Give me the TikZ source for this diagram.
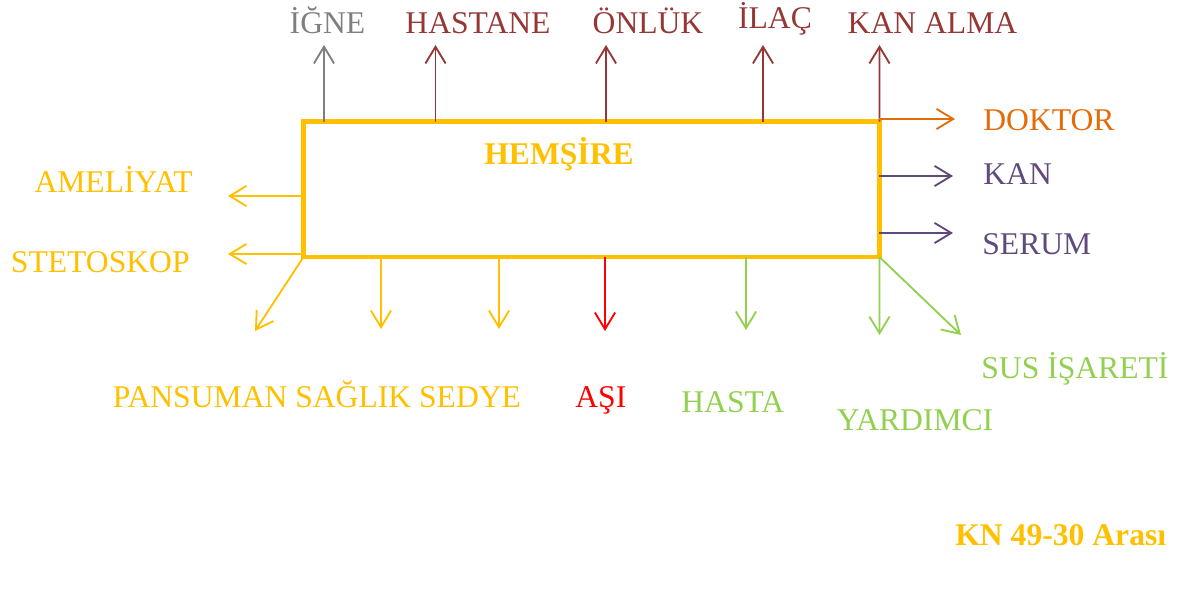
\documentclass[tikz,border=0pt]{standalone}
\usepackage{fontspec}
\setmainfont{Liberation Serif}
\usepackage{xcolor}
\usetikzlibrary{arrows.meta, positioning, calc}

\definecolor{hyellow}{HTML}{FFC000}
\definecolor{hgreen}{HTML}{92D050}
\definecolor{hred}{HTML}{FF0000}
\definecolor{horange}{HTML}{E36C09}
\definecolor{hpurple}{HTML}{604A7B}
\definecolor{hbrown}{HTML}{953735}
\definecolor{hgray}{HTML}{7F7F7F}

\begin{document}
\begin{tikzpicture}[
    x=0.02cm, y=-0.02cm,
    box/.style={draw=hyellow, line width=2.4pt, rectangle, outer sep=0pt, inner sep=0pt, minimum width=11.52cm, minimum height=2.71cm},
    label/.style={inner sep=0pt, font=\fontsize{18}{20}\selectfont},
    boldlabel/.style={label, font=\fontsize{18}{20}\selectfont\bfseries},
    arr/.style={line width=1.05pt, -{Straight Barb[length=9.5pt, width=11.5pt, line width=1.05pt]}}
]
    \useasboundingbox (0,0) rectangle (1181,599);

    % ================= MAIN BOX =================
    \node[box] (hemsire) at (591.5,189.25) {};
    \node[boldlabel, text=hyellow, anchor=base] (title) at (559,164) {HEMŞİRE};

    % ================= TOP =================
    \node[label, text=hgray, anchor=base] (igne) at (327.5,33) {İĞNE};
    \node[label, text=hbrown, anchor=base] (hastane) at (478,33) {HASTANE};
    \node[label, text=hbrown, anchor=base] (onluk) at (648,33) {ÖNLÜK};
    \node[label, text=hbrown, anchor=base] (ilac) at (775,28) {İLAÇ};
    \node[label, text=hbrown, anchor=base] (kanalma) at (932.5,33) {KAN ALMA};

    \coordinate (igne_tip) at (324,45);
    \coordinate (hastane_tip) at (435.5,45);
    \coordinate (onluk_tip) at (606,45);
    \coordinate (ilac_tip) at (763,45);
    \coordinate (kanalma_tip) at (879.5,45);

    \draw[arr, hgray] (hemsire.north -| igne_tip) -- (igne_tip);
    \draw[arr, hbrown] (hemsire.north -| hastane_tip) -- (hastane_tip);
    \draw[arr, hbrown] (hemsire.north -| onluk_tip) -- (onluk_tip);
    \draw[arr, hbrown] (hemsire.north -| ilac_tip) -- (ilac_tip);
    \draw[arr, hbrown] (hemsire.north east) -- (kanalma_tip);

    % ================= RIGHT =================
    \node[label, text=horange, anchor=base west] (doktor) at (983,130) {DOKTOR};
    \node[label, text=hpurple, anchor=base west] (kan) at (983,184) {KAN};
    \node[label, text=hpurple, anchor=base west] (serum) at (982,254) {SERUM};

    \coordinate (doktor_tip) at (955,119);
    \coordinate (kan_tip) at (953,176);
    \coordinate (serum_tip) at (953,233);

    \draw[arr, horange] (hemsire.north east |- doktor_tip) -- (doktor_tip);
    \draw[arr, hpurple] (hemsire.east |- kan_tip) -- (kan_tip);
    \draw[arr, hpurple] (hemsire.east |- serum_tip) -- (serum_tip);

    % ================= LEFT =================
    \node[label, text=hyellow, anchor=base east] (ameliyat) at (193,192) {AMELİYAT};
    \node[label, text=hyellow, anchor=base east] (stetoskop) at (190,272) {STETOSKOP};

    \coordinate (ameliyat_tip) at (228,196);
    \coordinate (stetoskop_tip) at (228,254);

    \draw[arr, hyellow] (hemsire.west |- ameliyat_tip) -- (ameliyat_tip);
    \draw[arr, hyellow] (hemsire.west |- stetoskop_tip) -- (stetoskop_tip);

    % ================= BOTTOM =================
    \node[label, text=hyellow, anchor=base west] (pansuman) at (112.5,407) {PANSUMAN SAĞLIK SEDYE};
    \node[label, text=hred, anchor=base west] (asi) at (575,407) {AŞI};
    \node[label, text=hgreen, anchor=base west] (hasta) at (681,412) {HASTA};
    \node[label, text=hgreen, anchor=base west] (yardimci) at (836.5,430) {YARDIMCI};
    \node[label, text=hgreen, anchor=base west] (sus) at (981,378) {SUS İŞARETİ};

    \coordinate (pansuman_tip) at (255,331);
    \coordinate (saglik_tip) at (381,329);
    \coordinate (sedye_tip) at (499,329);
    \coordinate (asi_tip) at (605,331);
    \coordinate (hasta_tip) at (746,330);
    \coordinate (yardimci_tip) at (879.5,335);
    \coordinate (sus_tip) at (961,335);

    \draw[arr, hyellow] (hemsire.south west) -- (pansuman_tip);
    \draw[arr, hyellow] (hemsire.south -| saglik_tip) -- (saglik_tip);
    \draw[arr, hyellow] (hemsire.south -| sedye_tip) -- (sedye_tip);
    \draw[arr, hred] (hemsire.south -| asi_tip) -- (asi_tip);
    \draw[arr, hgreen] (hemsire.south -| hasta_tip) -- (hasta_tip);
    \draw[arr, hgreen] (hemsire.south east) -- (yardimci_tip);
    \draw[arr, hgreen] (hemsire.south east) -- (sus_tip);

    % ================= NOTE =================
    \node[boldlabel, text=hyellow, anchor=base west] (note) at (955,545) {KN 49-30 Arası};

\end{tikzpicture}
\end{document}
